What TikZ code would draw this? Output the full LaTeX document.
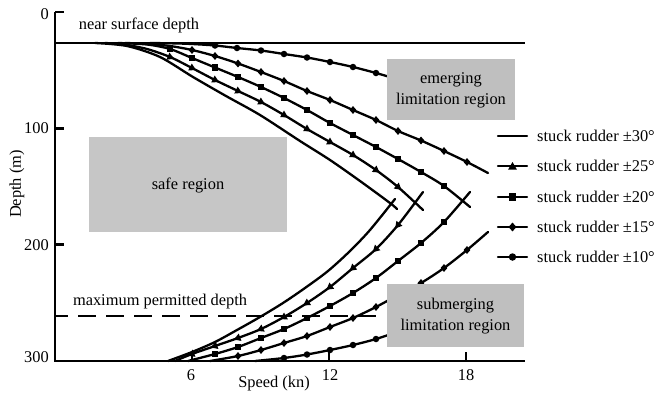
\documentclass[tikz,border=0pt]{standalone}
\usepackage{fontspec}
\setmainfont{Liberation Serif}
\usetikzlibrary{shapes.geometric,calc}
\begin{document}
\begin{tikzpicture}[x=1pt,y=-1pt,
  txt/.style={font=\fontsize{16.4}{21}\selectfont, inner sep=0pt, align=center},
  axisline/.style={line width=2.8pt},
  curve/.style={line width=2.3pt, line join=round, line cap=round},
  circ/.style={circle, fill=black, minimum size=6.5pt, inner sep=0pt},
  dia/.style={diamond, fill=black, minimum width=7pt, minimum height=8pt, inner sep=0pt},
  sq/.style={rectangle, fill=black, minimum size=6.5pt, inner sep=0pt},
  tri/.style={regular polygon, regular polygon sides=3, fill=black, minimum size=9pt, inner sep=0pt},
  region/.style={fill=gray!50, draw=none},
]
\useasboundingbox (0,0) rectangle (657,394);

\newcommand\tmark[3]{%
  \path let \p1=#1, \p2=#3, \n1={atan2(\y2-\y1,\x2-\x1)} in #2 node[tri, rotate=\n1-90] {};}

% ---------------- axes ----------------
\coordinate (o) at (55,361);
\coordinate (ytop) at (55,12);
\coordinate (xend) at (525,361);
\draw[axisline] (ytop) -- (o) -- (xend);
\draw[axisline] (55,12) -- (64,12);
\draw[axisline] (55,128.3) -- (64,128.3);
\draw[axisline] (55,244.6) -- (64,244.6);
\draw[axisline] (192,361) -- (192,352);
\draw[axisline] (329,361) -- (329,352);
\draw[axisline] (466,361) -- (466,352);

\node[txt, anchor=east] (t0) at (49,14) {0};
\node[txt, anchor=east] (t100) at (49,128) {100};
\node[txt, anchor=east] (t200) at (49,245) {200};
\node[txt, anchor=east] (t300) at (49,357) {300};
\node[txt] (s6) at (191,375) {6};
\node[txt] (s12) at (330,375) {12};
\node[txt] (s18) at (466,375) {18};
\node[txt] (xlab) at (274,384) {Speed (kn)};
\node[txt, rotate=90] (ylab) at (17,184) {Depth (m)};

% ---------------- reference lines ----------------
\coordinate (ns1) at (55,43);
\coordinate (ns2) at (525,43);
\draw[line width=2.8pt] (ns1) -- (ns2);
\node[txt] (nsd) at (139,25) {near surface depth};
\coordinate (md1) at (55,316);
\coordinate (md2) at (377,316);
\draw[line width=2.5pt, dash pattern=on 18pt off 10pt, dash phase=5pt] (md1) -- (md2);
\node[txt] (mpd) at (160,302) {maximum permitted depth};

% ---------------- curves: upper branches ----------------
% +-10 deg
\draw[curve] plot[smooth, tension=0.5] coordinates {(150,43) (175,43.4) (192,44) (215,45.5) (237,48) (261,50.5) (284,54) (307,57.5) (330,62) (353,67) (376,73) (400,80)};
\foreach \p in {(215,45.5),(237,48),(261,50.5),(284,54),(307,57.5),(330,62),(353,67),(376,73)} \node[circ] at \p {};
% +-15 deg
\draw[curve] plot[smooth, tension=0.5] coordinates {(125,43) (147,43.8) (170,46) (192,50) (215,56) (238,63.5) (261,72) (284,81) (307,91) (330,100) (353,110) (376,120) (398,131) (421,140.5) (444,151) (467,162) (488,173)};
\foreach \p in {(192,50),(215,56),(238,63.5),(261,72),(284,81),(307,91),(330,100),(353,110),(376,120),(398,131),(421,140.5),(444,151),(467,162)} \node[dia] at \p {};
% +-20 deg
\draw[curve] plot[smooth, tension=0.5] coordinates {(118,43) (147,44.5) (170,49) (192,58) (215,67.5) (238,77) (261,87) (284,98) (307,110) (330,123) (353,135) (376,147) (398,159) (421,172) (444,186) (470,207)};
\foreach \p in {(170,49),(192,58),(215,67.5),(238,77),(261,87),(284,98),(307,110),(330,123),(353,135),(376,147),(398,159),(421,172),(444,186)} \node[sq] at \p {};
% +-25 deg
\draw[curve] plot[smooth, tension=0.5] coordinates {(105,43) (124,44.5) (147,49) (170,57) (192,68) (215,80) (238,91) (261,102) (284,115) (307,129) (330,142) (353,155) (376,170) (398,187) (423,210)};
\tmark{(147,49)}{(170,57)}{(192,68)}
\tmark{(170,57)}{(192,68)}{(215,80)}
\tmark{(192,68)}{(215,80)}{(238,91)}
\tmark{(215,80)}{(238,91)}{(261,102)}
\tmark{(238,91)}{(261,102)}{(284,115)}
\tmark{(261,102)}{(284,115)}{(307,129)}
\tmark{(284,115)}{(307,129)}{(330,142)}
\tmark{(307,129)}{(330,142)}{(353,155)}
\tmark{(330,142)}{(353,155)}{(376,170)}
\tmark{(353,155)}{(376,170)}{(398,187)}
\tmark{(376,170)}{(398,187)}{(423,210)}
% +-30 deg
\draw[curve] plot[smooth, tension=0.5] coordinates {(95,43) (127,46) (160,57) (193,77) (226,96) (260,115) (300,141) (330,160) (360,181) (390,203) (397,209)};

% ---------------- curves: lower branches ----------------
% +-30 deg
\draw[curve] plot[smooth, tension=0.5] coordinates {(395,199) (370,230) (350,251) (328,271) (305,288) (283,303) (260,317) (237,330) (215,342) (192,352) (168,361)};
% +-25 deg
\draw[curve] plot[smooth, tension=0.5] coordinates {(423,192) (398,225) (376,249) (353,268) (330,287) (307,303) (284,317) (261,329) (238,338) (215,346) (192,354) (175,361)};
\tmark{(423,192)}{(398,225)}{(376,249)}
\tmark{(398,225)}{(376,249)}{(353,268)}
\tmark{(376,249)}{(353,268)}{(330,287)}
\tmark{(353,268)}{(330,287)}{(307,303)}
\tmark{(330,287)}{(307,303)}{(284,317)}
\tmark{(307,303)}{(284,317)}{(261,329)}
\tmark{(284,317)}{(261,329)}{(238,338)}
\tmark{(261,329)}{(238,338)}{(215,346)}
\tmark{(238,338)}{(215,346)}{(192,354)}
\tmark{(215,346)}{(192,354)}{(175,361)}
% +-20 deg
\draw[curve] plot[smooth, tension=0.5] coordinates {(470,192) (444,222) (421,243) (398,261) (376,278) (353,293) (330,306) (307,318) (284,329) (261,338) (238,347) (215,354) (188,361)};
\foreach \p in {(444,222),(421,243),(398,261),(376,278),(353,293),(330,306),(307,318),(284,329),(261,338),(238,347),(215,354)} \node[sq] at \p {};
% +-15 deg
\draw[curve] plot[smooth, tension=0.5] coordinates {(488,232) (467,250) (444,268) (421,283) (398,295) (376,307) (353,318) (330,327) (307,336) (284,343) (261,350) (238,356) (210,361)};
\foreach \p in {(467,250),(444,268),(421,283),(398,295),(376,307),(353,318),(330,327),(307,336),(284,343),(261,350),(238,356)} \node[dia] at \p {};
% +-10 deg
\draw[curve] plot[smooth, tension=0.5] coordinates {(400,331) (376,339) (353,345) (330,350) (307,354.5) (284,358) (255,361)};
\foreach \p in {(376,339),(353,345),(330,350),(307,354.5),(284,358)} \node[circ] at \p {};

% ---------------- regions ----------------
\fill[region, fill=gray!45] (89,137) rectangle (287,232);
\node[txt] (safe) at (188,185) {safe region};
\fill[region] (387,59) rectangle (515,120);
\node[txt] (emerg) at (451,90) {emerging\\limitation region};
\fill[region] (387,284) rectangle (524,347);
\node[txt] (subm) at (455.5,316) {submerging\\limitation region};

% ---------------- legend ----------------
\foreach \yy/\lab in {136/30,166/25,197/20,227/15,257/10}{
  \draw[curve] (498,\yy) -- (527,\yy);
  \node[txt, anchor=west] at (537,\yy) {stuck rudder \textpm\lab\textdegree};
}
\node[tri, minimum size=10pt] (l25) at (512.5,167) {};
\node[sq, minimum size=7.5pt] (l20) at (512.5,197) {};
\node[dia, minimum width=8pt, minimum height=9pt] (l15) at (512.5,227) {};
\node[circ, minimum size=7.5pt] (l10) at (512.5,257) {};
\end{tikzpicture}
\end{document}
